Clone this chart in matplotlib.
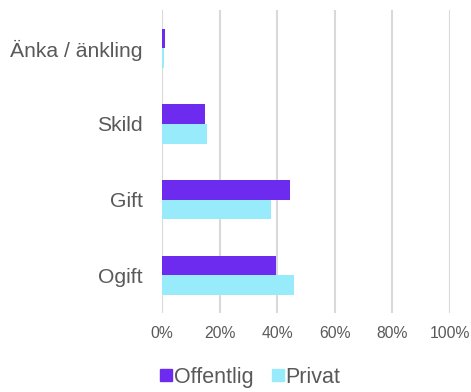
import numpy as np
import matplotlib.pyplot as plt
from matplotlib.lines import Line2D
from matplotlib.ticker import PercentFormatter

plt.rcParams['font.family'] = ['Liberation Sans', 'DejaVu Sans']

# Civilstånd, andel per sektor (%)
categories = ['Ogift', 'Gift', 'Skild', 'Änka / änkling']
offentlig = [39.7, 44.6, 14.8, 1.2]
privat = [45.9, 38.0, 15.5, 0.8]
series_names = ['Offentlig', 'Privat']
colors = ['#6C2BEF', '#98EBFA']
text_color = '#595959'

fig = plt.figure(figsize=(4.71, 3.92), dpi=100)
ax = fig.add_axes([0.344, 0.201, 0.611, 0.7725])

y = np.arange(len(categories))
h = 0.26
ax.barh(y + h / 2, offentlig, height=h, color=colors[0], zorder=3)
ax.barh(y - h / 2, privat, height=h, color=colors[1], zorder=3)

ax.set_xlim(0, 100)
ax.set_ylim(-0.5, len(categories) - 0.5)
ax.set_xticks(np.arange(0, 101, 20))
ax.xaxis.set_major_formatter(PercentFormatter(decimals=0))
ax.set_yticks(y)
ax.set_yticklabels(categories)

ax.grid(axis='x', color='#D9D9D9', linewidth=1.5, zorder=0)
for s in ax.spines.values():
    s.set_visible(False)
ax.tick_params(axis='both', length=0, colors=text_color)
ax.tick_params(axis='x', labelsize=11.3, pad=9.5)
ax.tick_params(axis='y', labelsize=15.2, pad=13.7)

handles = [Line2D([], [], marker='s', linestyle='none', markersize=8,
                  markerfacecolor=c, markeredgecolor=c) for c in colors]
fig.legend(handles, series_names, loc='center', bbox_to_anchor=(0.531, 0.038),
           ncol=2, frameon=False, fontsize=15.5, labelcolor=text_color,
           handlelength=0.55, handletextpad=0.1, columnspacing=0.85)

fig.savefig('out.png', dpi=100)
